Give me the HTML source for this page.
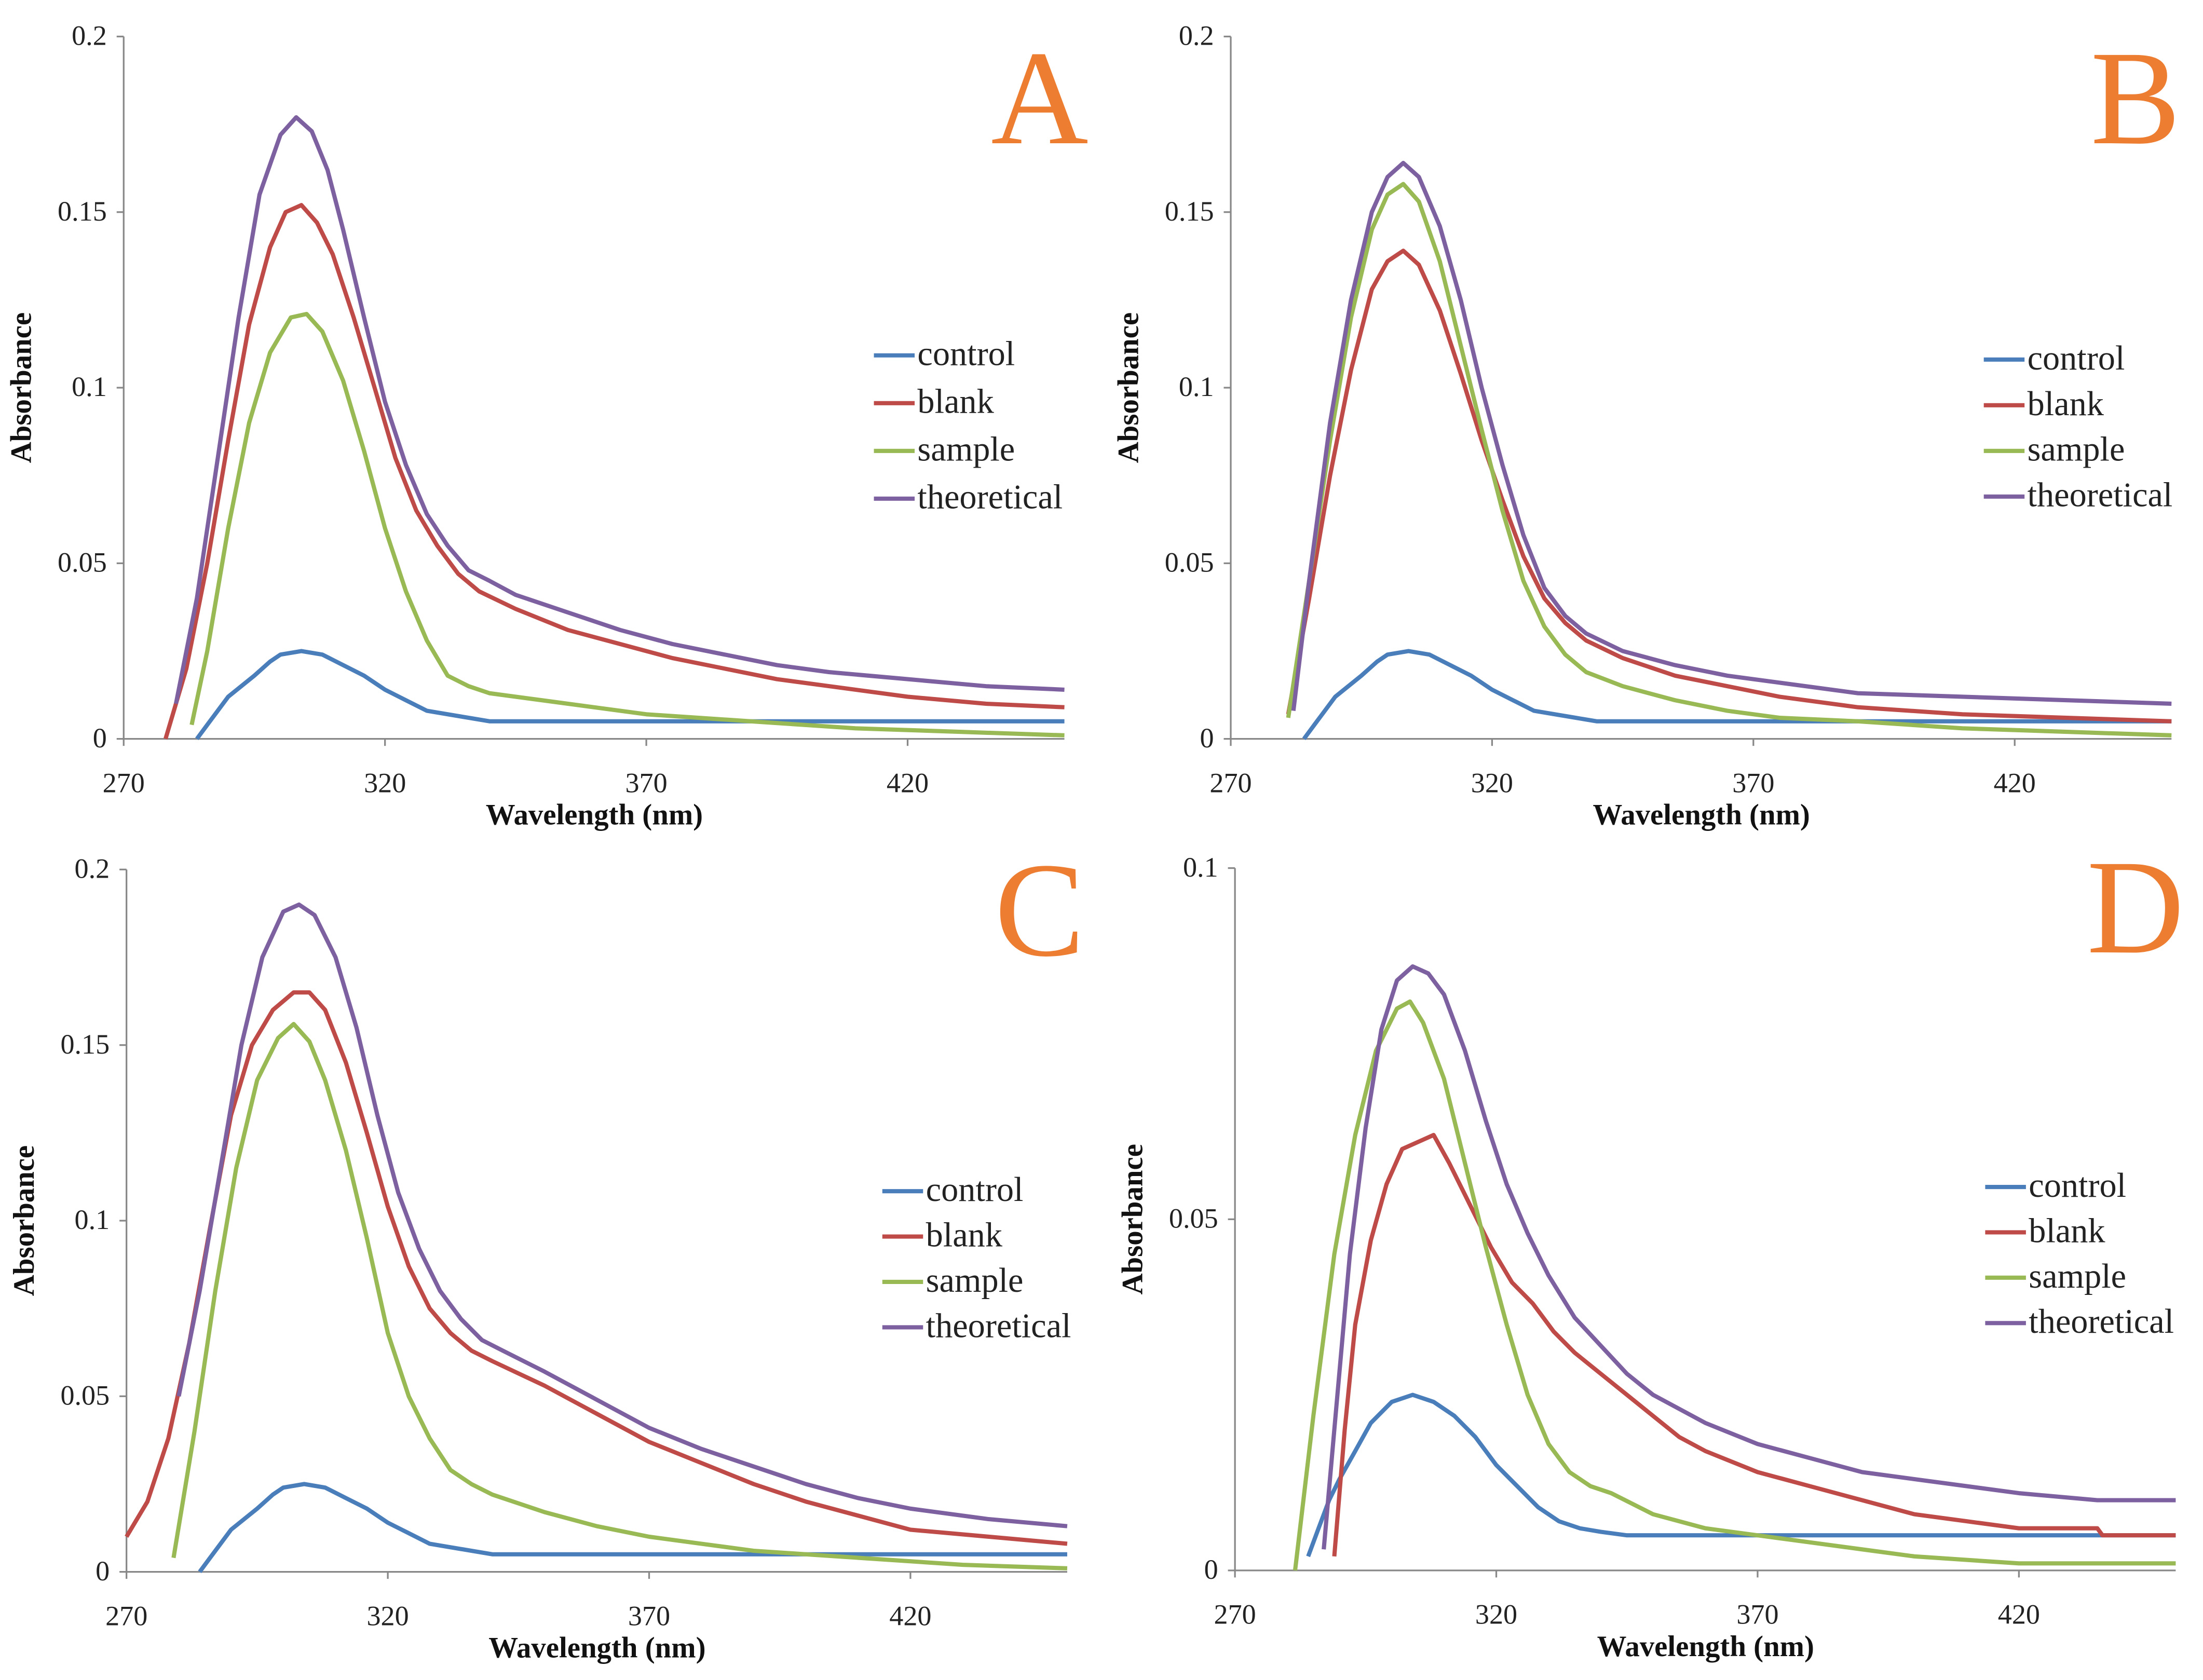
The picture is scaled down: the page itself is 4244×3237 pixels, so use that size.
<!DOCTYPE html>
<html><head><meta charset="utf-8"><style>
html,body{margin:0;padding:0;background:#fff;}
svg{display:block;font-family:"Liberation Serif",serif;}
</style></head>
<body>
<svg id="fig" xmlns="http://www.w3.org/2000/svg" width="4244" height="3237" viewBox="0 0 1568 1196"></svg>
<script>
// ---------- data ----------
const seriesNames = ["control","blank","sample","theoretical"];
const xTicks = [270,320,370,420];
const yTicksAB = [0,0.05,0.1,0.15,0.2];
const yTicksD = [0,0.05,0.1];
const yTickLabelsAB = ["0","0.05","0.1","0.15","0.2"];
const yTickLabelsD = ["0","0.05","0.1"];

const ctrlW = [284,286,290,295,298,300,304,308,312,316,320,324,328,332,336,340,450];
const ctrlV = [0,0.004,0.012,0.018,0.022,0.024,0.025,0.024,0.021,0.018,0.014,0.011,0.008,0.007,0.006,0.005,0.005];

const aBlankW = [278,282,286,290,294,298,301,304,307,310,314,318,322,326,330,334,338,345,355,365,375,385,395,405,420,435,450];
const aBlankV = [0,0.02,0.05,0.085,0.118,0.14,0.15,0.152,0.147,0.138,0.12,0.1,0.08,0.065,0.055,0.047,0.042,0.037,0.031,0.027,0.023,0.02,0.017,0.015,0.012,0.01,0.009];
const aSampleW = [283,286,290,294,298,302,305,308,312,316,320,324,328,332,336,340,350,360,370,380,390,400,410,430,450];
const aSampleV = [0.004,0.025,0.06,0.09,0.11,0.12,0.121,0.116,0.102,0.082,0.06,0.042,0.028,0.018,0.015,0.013,0.011,0.009,0.007,0.006,0.005,0.004,0.003,0.002,0.001];
const aTheoW = [280,284,288,292,296,300,303,306,309,312,316,320,324,328,332,336,340,345,355,365,375,385,395,405,420,435,450];
const aTheoV = [0.01,0.04,0.08,0.12,0.155,0.172,0.177,0.173,0.162,0.145,0.12,0.096,0.078,0.064,0.055,0.048,0.045,0.041,0.036,0.031,0.027,0.024,0.021,0.019,0.017,0.015,0.014];

const bBlankW = [281,285,289,293,297,300,303,306,310,314,318,322,326,330,334,338,345,355,365,375,390,410,430,450];
const bBlankV = [0.007,0.04,0.075,0.105,0.128,0.136,0.139,0.135,0.122,0.104,0.085,0.068,0.052,0.04,0.033,0.028,0.023,0.018,0.015,0.012,0.009,0.007,0.006,0.005];
const bSampleW = [281,285,289,293,297,300,303,306,310,314,318,322,326,330,334,338,345,355,365,375,390,410,430,450];
const bSampleV = [0.006,0.045,0.085,0.12,0.145,0.155,0.158,0.153,0.136,0.112,0.088,0.065,0.045,0.032,0.024,0.019,0.015,0.011,0.008,0.006,0.005,0.003,0.002,0.001];
const bTheoW = [282,285,289,293,297,300,303,306,310,314,318,322,326,330,334,338,345,355,365,375,390,410,430,450];
const bTheoV = [0.008,0.045,0.09,0.125,0.15,0.16,0.164,0.16,0.146,0.125,0.1,0.078,0.058,0.043,0.035,0.03,0.025,0.021,0.018,0.016,0.013,0.012,0.011,0.01];

const cBlankW = [270,274,278,282,286,290,294,298,302,305,308,312,316,320,324,328,332,336,340,350,360,370,380,390,400,410,420,435,450];
const cBlankV = [0.01,0.02,0.038,0.065,0.098,0.13,0.15,0.16,0.165,0.165,0.16,0.145,0.125,0.104,0.087,0.075,0.068,0.063,0.06,0.053,0.045,0.037,0.031,0.025,0.02,0.016,0.012,0.01,0.008];
const cSampleW = [279,283,287,291,295,299,302,305,308,312,316,320,324,328,332,336,340,350,360,370,380,390,400,410,430,450];
const cSampleV = [0.004,0.04,0.08,0.115,0.14,0.152,0.156,0.151,0.14,0.12,0.095,0.068,0.05,0.038,0.029,0.025,0.022,0.017,0.013,0.01,0.008,0.006,0.005,0.004,0.002,0.001];
const cTheoW = [280,284,288,292,296,300,303,306,310,314,318,322,326,330,334,338,342,350,360,370,380,390,400,410,420,435,450];
const cTheoV = [0.05,0.08,0.115,0.15,0.175,0.188,0.19,0.187,0.175,0.155,0.13,0.108,0.092,0.08,0.072,0.066,0.063,0.057,0.049,0.041,0.035,0.03,0.025,0.021,0.018,0.015,0.013];

const dCtrlW = [284,286,288,290,293,296,300,304,308,312,316,320,324,328,332,336,340,345,450];
const dCtrlV = [0.002,0.006,0.01,0.013,0.017,0.021,0.024,0.025,0.024,0.022,0.019,0.015,0.012,0.009,0.007,0.006,0.0055,0.005,0.005];
const dBlankW = [289,291,293,296,299,302,305,308,311,315,319,323,327,331,335,340,345,350,355,360,370,380,390,400,410,420,435,436,450];
const dBlankV = [0.002,0.02,0.035,0.047,0.055,0.06,0.061,0.062,0.058,0.052,0.046,0.041,0.038,0.034,0.031,0.028,0.025,0.022,0.019,0.017,0.014,0.012,0.01,0.008,0.007,0.006,0.006,0.005,0.005];
const dSampleW = [281.5,285,289,293,297,301,303.5,306,310,314,318,322,326,330,334,338,342,350,360,370,380,390,400,420,450];
const dSampleV = [0,0.022,0.045,0.062,0.074,0.08,0.081,0.078,0.07,0.058,0.046,0.035,0.025,0.018,0.014,0.012,0.011,0.008,0.006,0.005,0.004,0.003,0.002,0.001,0.001];
const dTheoW = [287,289,292,295,298,301,304,307,310,314,318,322,326,330,335,340,345,350,360,370,380,390,400,420,435,450];
const dTheoV = [0.003,0.02,0.045,0.063,0.077,0.084,0.086,0.085,0.082,0.074,0.064,0.055,0.048,0.042,0.036,0.032,0.028,0.025,0.021,0.018,0.016,0.014,0.013,0.011,0.01,0.01];

const colors = {control:"#4a7ebb",blank:"#be4b48",sample:"#98b954",theoretical:"#7d60a0"};

const panels = [
 {id:"a",label:"A",x0:88,y0:526,yTop:26,ymax:0.2,ticks:yTicksAB,tl:yTickLabelsAB,legX:622,legY:253,legDy:34,labX:740,labY:102,
  series:[[ctrlW,ctrlV],[aBlankW,aBlankV],[aSampleW,aSampleV],[aTheoW,aTheoV]]},
 {id:"b",label:"B",x0:876,y0:526,yTop:26,ymax:0.2,ticks:yTicksAB,tl:yTickLabelsAB,legX:1412,legY:256,legDy:32.5,labX:1520,labY:102,
  series:[[ctrlW,ctrlV],[bBlankW,bBlankV],[bSampleW,bSampleV],[bTheoW,bTheoV]]},
 {id:"c",label:"C",x0:90,y0:1119,yTop:619,ymax:0.2,ticks:yTicksAB,tl:yTickLabelsAB,legX:628,legY:848,legDy:32.3,labX:740,labY:680,
  series:[[ctrlW,ctrlV],[cBlankW,cBlankV],[cSampleW,cSampleV],[cTheoW,cTheoV]]},
 {id:"d",label:"D",x0:879,y0:1118,yTop:618,ymax:0.1,ticks:yTicksD,tl:yTickLabelsD,legX:1413,legY:845,legDy:32.3,labX:1520,labY:678,
  series:[[dCtrlW,dCtrlV],[dBlankW,dBlankV],[dSampleW,dSampleV],[dTheoW,dTheoV]]}
];

const NS="http://www.w3.org/2000/svg";
const svg=document.getElementById("fig");
function mk(tag,attrs,parent){const e=document.createElementNS(NS,tag);for(const k in attrs)e.setAttribute(k,attrs[k]);parent.appendChild(e);return e;}

panels.forEach(p=>{
  const g=mk("g",{},svg);
  
  
  const pxPerNm=3.72;
  const X=w=>p.x0+(w-270)*pxPerNm;
  const Y=v=>p.y0-(v/p.ymax)*(p.y0-p.yTop);
  const xEnd=X(450);
  const ya=mk("line",{x1:p.x0,y1:p.yTop,x2:p.x0,y2:p.y0,stroke:"#888","stroke-width":1.2},g);
  
  
  const xa=mk("line",{x1:p.x0,y1:p.y0,x2:xEnd,y2:p.y0,stroke:"#888","stroke-width":1.2},g);
  
  
  p.ticks.forEach((t,i)=>{
    mk("line",{x1:p.x0-5,y1:Y(t),x2:p.x0,y2:Y(t),stroke:"#888","stroke-width":1.2},g);
    const tx=mk("text",{x:p.x0-12,y:Y(t)+6,"text-anchor":"end","font-size":20,fill:"#222"},g);
    tx.textContent=p.tl[i];
    
    
  });
  xTicks.forEach(t=>{
    mk("line",{x1:X(t),y1:p.y0,x2:X(t),y2:p.y0+5,stroke:"#888","stroke-width":1.2},g);
    const tx=mk("text",{x:X(t),y:p.y0+38,"text-anchor":"middle","font-size":20,fill:"#222"},g);
    tx.textContent=t;
    
    
  });
  const xt=mk("text",{x:p.x0+335,y:p.y0+61,"text-anchor":"middle","font-size":21,"font-weight":"bold",fill:"#111"},g);
  xt.textContent="Wavelength (nm)";
  
  
  const ytx=p.x0-66, yty=(p.y0+p.yTop)/2;
  const yt=mk("text",{x:ytx,y:yty,"text-anchor":"middle","font-size":21,"font-weight":"bold",fill:"#111",transform:`rotate(-90 ${ytx} ${yty})`},g);
  yt.textContent="Absorbance";
  
  
  p.series.forEach((s,i)=>{
    const pts=s[0].map((w,j)=>X(w).toFixed(1)+","+Y(s[1][j]).toFixed(1)).join(" ");
    const pl=mk("polyline",{points:pts,fill:"none",stroke:colors[seriesNames[i]],"stroke-width":3,"stroke-linejoin":"round"},g);
    
    
  });
  seriesNames.forEach((n,i)=>{
    const ly=p.legY+i*p.legDy;
    const lg=mk("g",{},g);
    
    
    mk("line",{x1:p.legX,y1:ly,x2:p.legX+29,y2:ly,stroke:colors[n],"stroke-width":3},lg);
    const t=mk("text",{x:p.legX+31,y:ly+7,"font-size":24.5,fill:"#222"},lg);
    t.textContent=n;
  });
  const lab=mk("text",{x:p.labX,y:p.labY,"text-anchor":"middle","font-size":96,fill:"#ed7d31"},g);
  lab.textContent=p.label;
  
  
});
</script>
</body></html>
